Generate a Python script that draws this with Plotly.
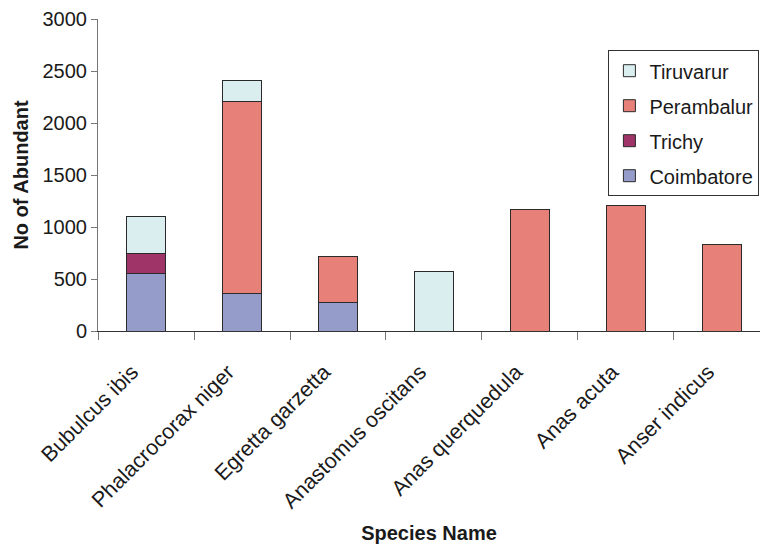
import plotly.graph_objects as go

species = ["Bubulcus ibis", "Phalacrocorax niger", "Egretta garzetta",
           "Anastomus oscitans", "Anas querquedula", "Anas acuta", "Anser indicus"]
coimbatore = [555, 360, 276, 0, 0, 0, 0]
trichy = [195, 0, 0, 0, 0, 0, 0]
perambalur = [0, 1845, 445, 0, 1170, 1205, 834]
tiruvarur = [355, 208, 0, 574, 0, 0, 0]
y_ticks = [0, 500, 1000, 1500, 2000, 2500, 3000]

series = [
    ("Coimbatore", coimbatore, "#959CC9", 4),
    ("Trichy", trichy, "#9E3468", 3),
    ("Perambalur", perambalur, "#E8807A", 2),
    ("Tiruvarur", tiruvarur, "#DAEDEF", 1),
]

FONT = "Liberation Sans, Arial, sans-serif"
fig = go.Figure()
for name, vals, col, rank in series:
    fig.add_trace(go.Bar(
        x=species, y=vals, name=name, marker_color=col,
        marker_line_color="#2a2a2a", marker_line_width=1,
        width=0.4, legendgroup=name, legendrank=rank,
    ))

fig.update_layout(
    width=760, height=545,
    margin=dict(l=98, r=0, t=19, b=214, autoexpand=False),
    barmode="stack",
    plot_bgcolor="white", paper_bgcolor="white",
    font=dict(family=FONT, size=20, color="#1a1a1a"),
    legend=dict(
        x=0.771, y=0.9, xanchor="left", yanchor="top",
        bordercolor="#333333", borderwidth=1, bgcolor="white",
        traceorder="grouped", tracegroupgap=6,
        font=dict(family=FONT, size=20, color="#1a1a1a"),
    ),
    showlegend=True,
)
fig.update_xaxes(
    type="category", range=[-0.5, 6.396], automargin=False,
    showline=True, linecolor="#333333", linewidth=1,
    ticks="outside", tickson="boundaries", ticklen=8, tickcolor="#777777",
    tickangle=-45, showgrid=False,
    tickfont=dict(family=FONT, size=21.5),
    ticklabelstandoff=19, ticklabelshift=-14,
    title=dict(text="<b>Species Name</b>", font=dict(family=FONT, size=20), standoff=13),
)
fig.update_yaxes(
    range=[0, 3000], tickvals=y_ticks, automargin=False,
    showline=True, linecolor="#777777", linewidth=1,
    ticks="outside", ticklen=6, tickcolor="#777777",
    showgrid=False, zeroline=False,
    title=dict(text="<b>No of Abundant</b>", font=dict(family=FONT, size=20), standoff=8),
)
fig.write_html("out.html", config={"displayModeBar": False},
               post_script="document.body.style.margin='0';")
